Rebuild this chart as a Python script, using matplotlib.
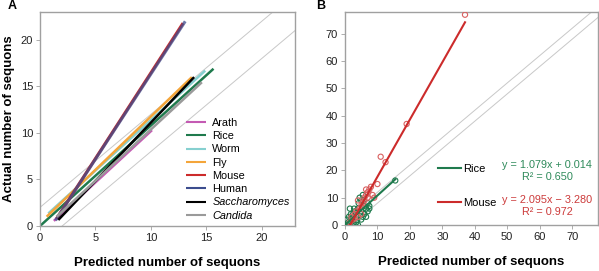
import numpy as np
import matplotlib
matplotlib.use("Agg")
import matplotlib.pyplot as plt

plt.rcParams["font.family"] = ["Liberation Sans", "DejaVu Sans"]

# panel A: fitted lines per organism (start / end points)
species = ["Arath", "Rice", "Worm", "Fly", "Mouse", "Human", "Saccharomyces", "Candida"]
colors = ["#c45ab3", "#1f7a4d", "#86d0d0", "#f4a53a", "#cc2b2b", "#3c4d8e", "#000000", "#9a9a9a"]
x_start = [1.25, 0.0, 0.75, 0.6, 1.5, 1.4, 1.65, 1.5]
y_start = [0.55, 0.0, 1.35, 1.0, 0.8, 0.6, 0.65, 1.0]
x_end = [10.1, 15.65, 14.9, 13.7, 12.9, 13.1, 13.9, 14.6]
y_end = [10.3, 16.9, 16.7, 16.0, 21.8, 22.0, 16.0, 15.45]

# panel B: scatter + fits
rice_x = [0.3, 0.5, 0.8, 1.0, 1.2, 1.5, 2.0, 2.0, 2.5, 3.0, 3.0, 3.5, 3.5, 4.0, 4.0, 4.2, 4.5,
          5.0, 5.0, 5.0, 5.5, 5.5, 6.0, 6.0, 6.5, 6.5, 7.0, 7.0, 7.5, 7.5, 2.8, 1.8, 3.8, 15.5]
rice_y = [0, 2, 0, 1, 3, 6, 0, 2, 4, 0, 5, 1, 3, 0, 6, 8, 10,
          2, 5, 9, 3, 11, 4, 7, 3, 6, 5, 8, 7, 6, 6, 4, 2, 16.3]
mouse_x = [1.5, 2.0, 2.5, 3.0, 3.5, 4.0, 4.5, 5.0, 5.5, 6.0, 6.0, 6.5, 7.0, 7.0, 7.5, 8.0,
           8.5, 9.0, 6.5, 4.0, 3.0, 5.0, 10.0, 11.0, 12.5, 19.0, 37.0]
mouse_y = [1, 3, 2, 4, 5, 3, 6, 7, 8, 9, 10, 11, 12, 10, 13, 14,
           11, 10, 13, 9, 2.5, 4, 15, 25, 23, 37, 77]
rice_fit = (1.079, 0.014)
mouse_fit = (2.095, -3.280)
rice_range = (0.0, 15.5)
mouse_range = (1.6, 37.0)

green = "#1f7a4d"
red = "#cc2b2b"
spine_col = "#a0a0a0"

fig = plt.figure(figsize=(5.99, 2.71), dpi=100)
axA = fig.add_axes([40 / 599, 1 - 226 / 271, 255 / 599, 214 / 271])
axB = fig.add_axes([345 / 599, 1 - 225 / 271, 253 / 599, 213 / 271])


def style(ax):
    for s in ax.spines.values():
        s.set_color(spine_col)
        s.set_linewidth(1.0)
    ax.tick_params(colors=spine_col, labelcolor="#222222", labelsize=8, length=3,
                   width=0.6, pad=2)


# ---- A ----
lim = 23
grid_x = np.array([0, lim])
axA.plot(grid_x, grid_x + 2, color="#c8c8c8", lw=0.7, zorder=1)
axA.plot(grid_x, grid_x - 2, color="#c8c8c8", lw=0.7, zorder=1)
for i, name in enumerate(species):
    alpha = 0.75 if name == "Human" else 1.0
    lw = 2.2 if name in ("Human", "Mouse") else 1.8
    axA.plot([x_start[i], x_end[i]], [y_start[i], y_end[i]], color=colors[i], lw=lw,
             alpha=alpha, label=name, solid_capstyle="butt", zorder=2)
axA.set_xlim(0, lim)
axA.set_ylim(0, lim)
axA.set_xticks([0, 5, 10, 15, 20])
axA.set_yticks([0, 5, 10, 15, 20])
style(axA)
leg = axA.legend(loc="lower right", frameon=False, fontsize=7.8, handlelength=1.8,
                 handletextpad=0.6, labelspacing=0.3, borderaxespad=0.1,
                 bbox_to_anchor=(1.0, 0.0))
for t in leg.get_texts():
    if t.get_text() in ("Saccharomyces", "Candida"):
        t.set_style("italic")
for h in leg.get_lines():
    h.set_alpha(1.0)
    h.set_linewidth(1.5)
axA.set_xlabel("Predicted number of sequons", fontsize=9.5, fontweight="bold", labelpad=10)
axA.set_ylabel("Actual number of sequons", fontsize=9.5, fontweight="bold", labelpad=4)

# ---- B ----
limB = 78
gx = np.array([0, limB])
axB.plot(gx, gx + 2, color="#c8c8c8", lw=0.7, zorder=1)
axB.plot(gx, gx - 2, color="#c8c8c8", lw=0.7, zorder=1)
axB.scatter(rice_x, rice_y, s=14, facecolors="none", edgecolors=green, linewidths=0.8, zorder=3)
axB.scatter(mouse_x, mouse_y, s=14, facecolors="none", edgecolors="#d96060", linewidths=0.8, zorder=3)
rx = np.array(rice_range)
mx = np.array(mouse_range)
axB.plot(rx, rice_fit[0] * rx + rice_fit[1], color=green, lw=1.5, zorder=4, label="Rice")
axB.plot(mx, mouse_fit[0] * mx + mouse_fit[1], color=red, lw=1.5, zorder=4, label="Mouse")
axB.set_xlim(0, limB)
axB.set_ylim(0, limB)
axB.set_xticks(range(0, 80, 10))
axB.set_yticks(range(0, 80, 10))
style(axB)
legB = axB.legend(loc="upper left", bbox_to_anchor=(0.33, 0.335), frameon=False, fontsize=8,
                  handlelength=2.0, handletextpad=0.2, labelspacing=2.2)
axB.text(0.80, 0.254, "y = 1.079x + 0.014\nR\u00b2 = 0.650", transform=axB.transAxes,
         color="#2e8a5a", fontsize=7.8, ha="center", va="center", linespacing=1.25)
axB.text(0.80, 0.089, "y = 2.095x \u2212 3.280\nR\u00b2 = 0.972", transform=axB.transAxes,
         color="#cc3a3a", fontsize=7.8, ha="center", va="center", linespacing=1.25)
axB.set_xlabel("Predicted number of sequons", fontsize=9.5, fontweight="bold", labelpad=10)

fig.text(8 / 599, 1 - 6 / 271, "A", fontsize=9, fontweight="bold", va="center")
fig.text(316 / 599, 1 - 6 / 271, "B", fontsize=9, fontweight="bold", va="center")

fig.savefig("out.png", dpi=100)
